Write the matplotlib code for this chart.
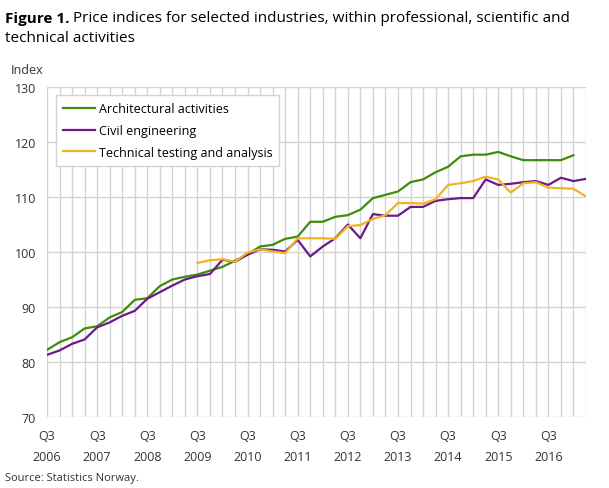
import numpy as np
import matplotlib.pyplot as plt

plt.rcParams['font.family'] = ['Open Sans', 'DejaVu Sans']

# quarters from 2006 Q3 to 2017 Q2
quarters = np.arange(44)
year_labels = ["Q3\n" + str(y) for y in range(2006, 2017)]

architectural = [82.2, 83.6, 84.5, 86.1, 86.5, 88.1, 89.1, 91.3, 91.6, 93.8,
                 95.0, 95.5, 95.9, 96.6, 97.3, 98.4, 99.6, 101.0, 101.3, 102.4,
                 102.8, 105.5, 105.5, 106.4, 106.7, 107.7, 109.8, 110.4, 111.0, 112.7,
                 113.2, 114.5, 115.5, 117.4, 117.7, 117.7, 118.2, 117.4, 116.7, 116.7,
                 116.7, 116.7, 117.6]
civil = [81.3, 82.1, 83.3, 84.1, 86.3, 87.2, 88.4, 89.3, 91.5, 92.7,
         93.9, 95.0, 95.6, 96.0, 98.6, 98.2, 99.5, 100.5, 100.4, 100.1,
         102.2, 99.2, 101.0, 102.5, 105.0, 102.5, 106.9, 106.6, 106.6, 108.2,
         108.2, 109.3, 109.6, 109.8, 109.8, 113.2, 112.2, 112.4, 112.7, 112.9,
         112.2, 113.5, 112.9, 113.3]
# technical testing starts 2009 Q3
testing = [98.0, 98.5, 98.7, 98.2, 99.9, 100.5, 100.1, 99.8, 102.5, 102.5,
           102.5, 102.4, 104.7, 104.9, 106.0, 106.7, 108.9, 108.9, 108.8, 109.6,
           112.2, 112.5, 112.9, 113.7, 113.2, 110.8, 112.5, 112.7, 111.7, 111.6,
           111.5, 110.1]

fig = plt.figure(figsize=(6.09, 4.89), dpi=100)
ax = fig.add_axes([0.0772, 0.1452, 0.8850, 0.6748])

ax.plot(quarters[:len(architectural)], architectural, c="#3f8c0a", lw=1.6,
        label="Architectural activities", zorder=3)
ax.plot(quarters[:len(civil)], civil, c="#6a1a8a", lw=1.6,
        label="Civil engineering", zorder=3)
ax.plot(quarters[12:12 + len(testing)], testing, c="#f0b323", lw=1.6,
        label="Technical testing and analysis", zorder=3)

ax.set_xlim(0, 43)
ax.set_ylim(70, 130)
ax.set_yticks(range(70, 131, 10))
ax.set_xticks(range(0, 44, 4))
ax.set_xticklabels(year_labels, linespacing=1.75)
ax.set_xticks(range(44), minor=True)
ax.grid(True, which="both", color="#d3d3d3", lw=1)
ax.set_axisbelow(True)
for s in ax.spines.values():
    s.set_visible(False)
ax.tick_params(which="both", length=0, labelsize=9, colors="#333333")
ax.tick_params(axis="y", pad=8)
ax.tick_params(axis="x", pad=9)

leg = ax.legend(loc="upper left", bbox_to_anchor=(0.016, 0.975), fontsize=9,
                frameon=True, fancybox=False, edgecolor="#d3d3d3",
                handlelength=2.6, handletextpad=0.3, borderpad=0.55,
                labelspacing=0.7, borderaxespad=0)
leg.get_frame().set_linewidth(1)
leg.get_frame().set_alpha(1)

# title: bold part then regular text right after it
t1 = fig.text(0.0082, 0.962, "Figure 1.", fontsize=11, fontweight="bold", va="center")
fig.canvas.draw()
bb = t1.get_window_extent().transformed(fig.transFigure.inverted())
fig.text(bb.x1 + 0.006, 0.962,
         "Price indices for selected industries, within professional, scientific and",
         fontsize=11, va="center")
fig.text(0.0082, 0.922, "technical activities", fontsize=11, va="center")
fig.text(0.017, 0.855, "Index", fontsize=9, va="center", color="#333333")
fig.text(0.0082, 0.022, "Source: Statistics Norway.", fontsize=8, va="center", color="#333333")

fig.savefig("out.png", dpi=100)
